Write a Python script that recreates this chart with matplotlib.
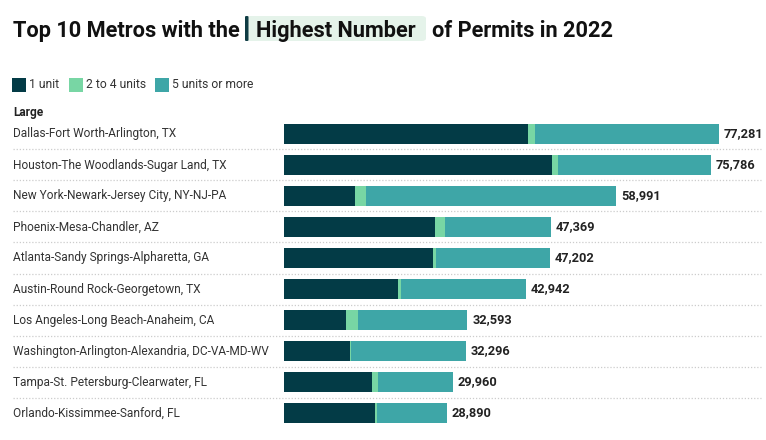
import matplotlib.pyplot as plt
import numpy as np
from matplotlib.patches import FancyBboxPatch, Rectangle
from matplotlib.transforms import blended_transform_factory

plt.rcParams['font.family'] = ['Roboto', 'DejaVu Sans']

# DATA
metros = ["Dallas-Fort Worth-Arlington, TX",
          "Houston-The Woodlands-Sugar Land, TX",
          "New York-Newark-Jersey City, NY-NJ-PA",
          "Phoenix-Mesa-Chandler, AZ",
          "Atlanta-Sandy Springs-Alpharetta, GA",
          "Austin-Round Rock-Georgetown, TX",
          "Los Angeles-Long Beach-Anaheim, CA",
          "Washington-Arlington-Alexandria, DC-VA-MD-WV",
          "Tampa-St. Petersburg-Clearwater, FL",
          "Orlando-Kissimmee-Sanford, FL"]
one_unit = [43350, 47610, 12610, 26830, 26470, 20250, 11010, 11720, 15630, 16170]
two_to_four = [1240, 1070, 1950, 1780, 530, 530, 2130, 150, 1070, 350]
five_plus = [32690, 27110, 44430, 18760, 20200, 22160, 19450, 20430, 13260, 12370]
totals = [77281, 75786, 58991, 47369, 47202, 42942, 32593, 32296, 29960, 28890]
series_names = ["1 unit", "2 to 4 units", "5 units or more"]
colors = ["#033b46", "#78d6a4", "#3ea6a7"]

W, H = 766, 440
fig = plt.figure(figsize=(W / 100, H / 100), dpi=100)

def fx(px):
    return px / W

def fy(py):
    return 1 - py / H

# bars
ax = fig.add_axes([fx(284), fy(428.5), fx(476), 310 / H])
y = np.arange(len(metros))
left = np.zeros(len(metros))
for vals, c in zip([one_unit, two_to_four, five_plus], colors):
    ax.barh(y, vals, left=left, height=20 / 31, color=c, linewidth=0)
    left = left + np.array(vals)
ax.set_xlim(0, 476 / (435 / 77281))
ax.set_ylim(len(metros) - 0.5, -0.5)
ax.axis("off")

for i, t in enumerate(totals):
    ax.annotate("{:,}".format(t), (left[i], i), xytext=(5, 0), textcoords="offset pixels",
                va="center", ha="left", fontsize=9.2, fontweight="bold", color="#222222")

# row labels and dotted separators
tr = blended_transform_factory(fig.transFigure, ax.transData)
for i, m in enumerate(metros):
    ax.text(fx(13), i, m, transform=tr, va="center", ha="left", fontsize=8.6, color="#333333")
for i in range(len(metros) - 1):
    ax.plot([fx(13), fx(761)], [i + 0.5, i + 0.5], transform=tr, clip_on=False,
            color="#cccccc", linestyle=(0, (1, 1.5)), linewidth=0.9)

fig.text(fx(13), fy(116), "Large", fontsize=8.6, fontweight="bold", color="#222222", va="baseline")

# title with highlight
fig.patches.append(FancyBboxPatch((fx(246), fy(41)), fx(180), 25 / H, boxstyle="round,pad=0,rounding_size=0.006",
                                  transform=fig.transFigure, facecolor="#e5f3ea", edgecolor="none"))
fig.patches.append(FancyBboxPatch((fx(245), fy(41)), fx(3.5), 25 / H, boxstyle="round,pad=0,rounding_size=0.002",
                                  transform=fig.transFigure, facecolor="#0e3b43", edgecolor="none"))
fig.text(fx(13), fy(37), "Top 10 Metros with the", fontsize=15.7, fontweight="bold", color="#111111", va="baseline")
fig.text(fx(256), fy(37), "Highest Number", fontsize=15.7, fontweight="bold", color="#111111", va="baseline")
fig.text(fx(432), fy(37), "of Permits in 2022", fontsize=15.7, fontweight="bold", color="#111111", va="baseline")

# legend
leg_x = [12, 69, 155]
for lx, name, c in zip(leg_x, series_names, colors):
    fig.patches.append(Rectangle((fx(lx), fy(92)), fx(14), 14 / H, transform=fig.transFigure,
                                 facecolor=c, edgecolor="none"))
    fig.text(fx(lx + 17), fy(85), name, fontsize=8.7, color="#333333", va="center")

fig.savefig("out.png", dpi=100)
